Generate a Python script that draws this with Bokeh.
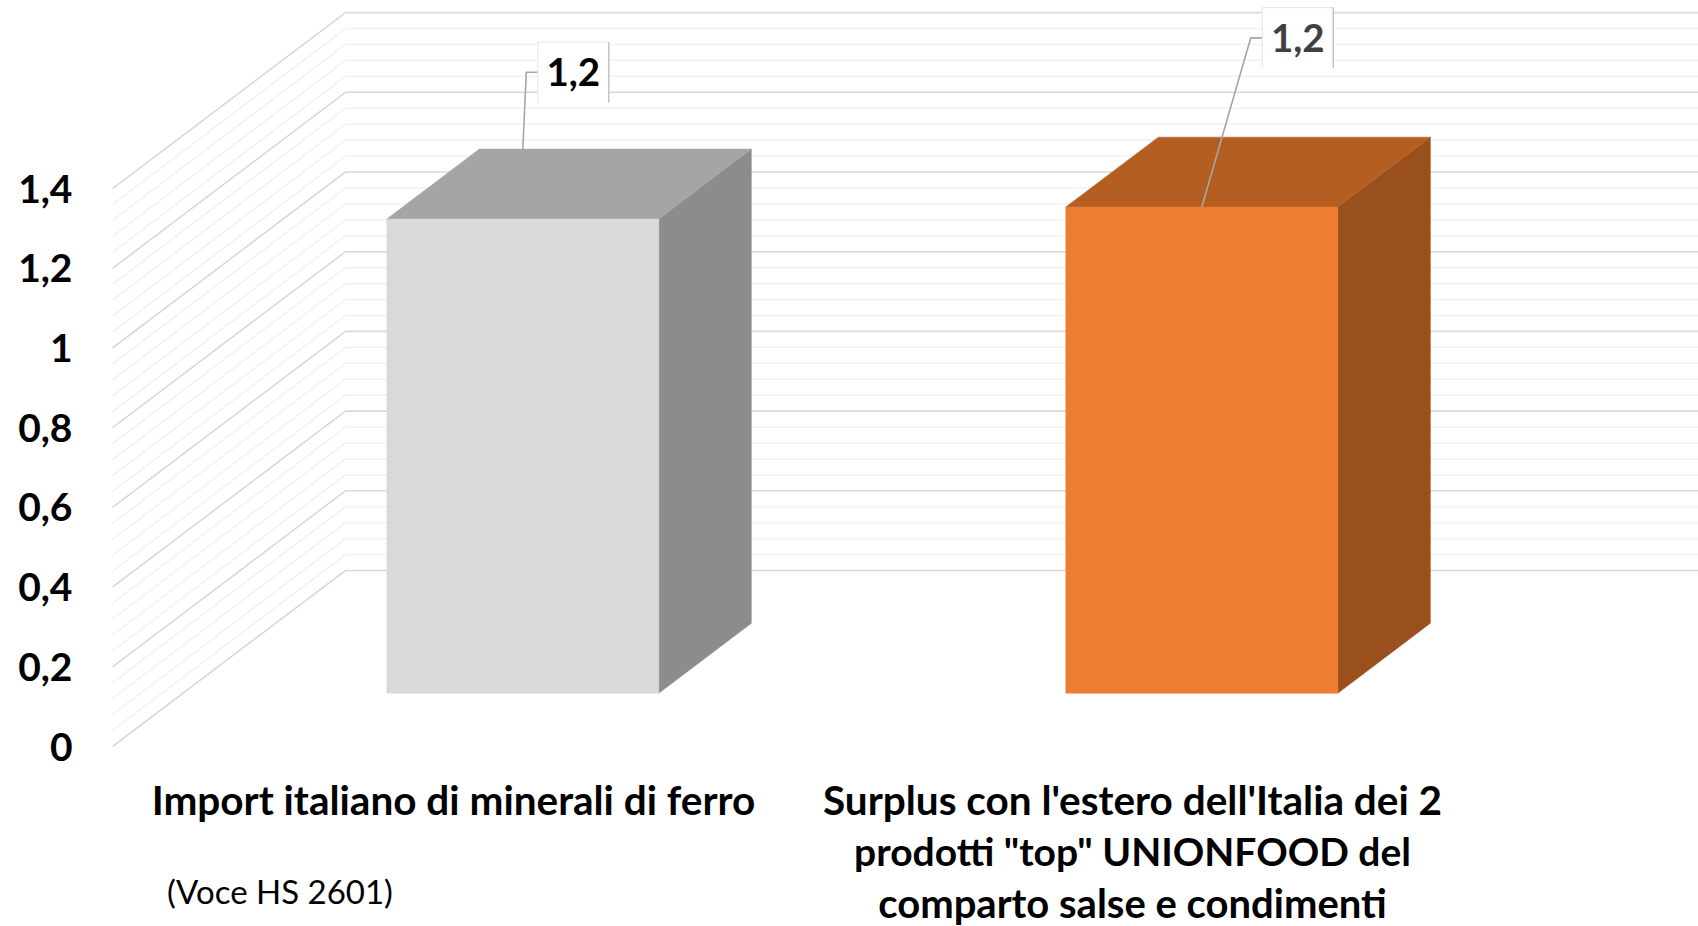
from bokeh.plotting import figure
from bokeh.models import Range1d, LinearAxis, FixedTicker
from bokeh.core.properties import value
from bokeh.embed import file_html
from bokeh.resources import INLINE

# ---- data ----
categories = [
    ["Import italiano di minerali di ferro"],
    ["Surplus con l'estero dell'Italia dei 2",
     "prodotti \"top\" UNIONFOOD del",
     "comparto salse e condimenti"],
]
category_font_sizes = [["40.5px"], ["40.5px", "39px", "40px"]]
values = [1.19, 1.22]
value_labels = ["1,2", "1,2"]
value_label_colors = ["#000000", "#404040"]
y_ticks = [0, 0.2, 0.4, 0.6, 0.8, 1, 1.2, 1.4]
y_tick_labels = ["0", "0,2", "0,4", "0,6", "0,8", "1", "1,2", "1,4"]
note = "(Voce HS 2601)"
front_colors = ["#d9d9d9", "#ed7d31"]
top_colors = ["#a5a5a5", "#b55e22"]
side_colors = ["#8c8c8c", "#99501d"]

# ---- layout: page pixels -> data units ----
W, H = 1698, 926
FRAME_L = 100
PX_X = 679.0     # pixels per category step
PX_Y = 398.5     # pixels per value unit
CAT0 = 453.0     # page x of category 0 on the front plane
ZERO = 746.0     # page y of value 0 on the front plane
x0 = (FRAME_L - CAT0) / PX_X
x1 = (W - CAT0) / PX_X
y0 = (ZERO - H) / PX_Y
y1 = ZERO / PX_Y

FLOOR_DX = 233 / PX_X      # floor depth on the x axis
FLOOR_DY = 176 / PX_Y      # floor depth on the y axis
WALL_L = (112 - CAT0) / PX_X
BAR_HALF = 136 / PX_X
BAR_SHIFT = 69.3 / PX_X    # bar centre right of its label
Z_FRONT, Z_BACK = 0.3028, 0.70


def proj(x, v, z):
    """Oblique projection of (x on the floor's front edge, value v, depth z 0..1)."""
    return x + z * FLOOR_DX, v + z * FLOOR_DY


p = figure(width=W, height=H, output_backend="svg", toolbar_location=None,
           x_range=Range1d(x0, x1), y_range=Range1d(y0, y1),
           x_axis_location=None, y_axis_location=None,
           min_border_left=FRAME_L, min_border_right=0,
           min_border_top=0, min_border_bottom=0,
           outline_line_color=None, background_fill_color="white")
p.grid.visible = False

# y axis
ax = LinearAxis(ticker=FixedTicker(ticks=y_ticks))
ax.major_label_overrides = dict(zip(y_ticks, y_tick_labels))
ax.axis_line_color = None
ax.major_tick_line_color = None
ax.minor_tick_line_color = None
ax.major_label_standoff = 22
ax.major_label_text_font = "Lato"
ax.major_label_text_font_style = "bold"
ax.major_label_text_font_size = "39px"
ax.major_label_text_color = "#000000"
p.add_layout(ax, "left")

# floor + wall grid
step = y_ticks[1] / 5
n_lines = 5 * (len(y_ticks) - 1) + 1
for i in range(n_lines - 1, -1, -1):
    v = i * step
    major = i % 5 == 0
    xs = [WALL_L, WALL_L + FLOOR_DX, x1]
    ys = [v, v + FLOOR_DY, v + FLOOR_DY]
    p.line(xs, ys, line_color="#d9d9d9" if major else "#f2f2f2", line_width=1.6)

# 3-D bars
for i, val in enumerate(values):
    cx = i + BAR_SHIFT - Z_FRONT * FLOOR_DX
    l, r = cx - BAR_HALF, cx + BAR_HALF
    fl0 = proj(l, 0, Z_FRONT); fr0 = proj(r, 0, Z_FRONT)
    fl1 = proj(l, val, Z_FRONT); fr1 = proj(r, val, Z_FRONT)
    bl1 = proj(l, val, Z_BACK); br1 = proj(r, val, Z_BACK)
    br0 = proj(r, 0, Z_BACK)
    p.patch([fr0[0], br0[0], br1[0], fr1[0]], [fr0[1], br0[1], br1[1], fr1[1]],
            fill_color=side_colors[i], line_color=side_colors[i], line_width=0.5)
    p.patch([fl1[0], fr1[0], br1[0], bl1[0]], [fl1[1], fr1[1], br1[1], bl1[1]],
            fill_color=top_colors[i], line_color=top_colors[i], line_width=0.5)
    p.patch([fl0[0], fr0[0], fr1[0], fl1[0]], [fl0[1], fr0[1], fr1[1], fl1[1]],
            fill_color=front_colors[i], line_color=front_colors[i], line_width=0.5)

# data labels with leaders (offsets in pixels from each bar's top front edge)
label_dx = [50.5, 96.0]          # box centre right of the bar's centre
label_dy = [146.7, 169.2]        # box centre above the bar's top front edge
box_w, box_h = 71 / PX_X, 60.5 / PX_Y
leader_end_dy = [70.0, 0.0]      # where the leader touches the bar
leader_elbow_dx = [3.5, 49.0]    # elbow right of the bar's centre
for i, val in enumerate(values):
    bar_x = i + BAR_SHIFT
    top_y = proj(0, val, Z_FRONT)[1]
    bx = bar_x + label_dx[i] / PX_X
    by = top_y + label_dy[i] / PX_Y
    left = bx - box_w / 2
    right = bx + box_w / 2
    p.line([left, bar_x + leader_elbow_dx[i] / PX_X, bar_x],
           [by, by, top_y + leader_end_dy[i] / PX_Y],
           line_color="#a6a6a6", line_width=1.6)
    p.rect([bx], [by], width=box_w, height=box_h, fill_color="white", line_color=None)
    p.line([left, left, right], [by - box_h / 2, by + box_h / 2, by + box_h / 2], line_color="#e6e6e6", line_width=1)
    p.line([right, right], [by - box_h / 2, by + box_h / 2], line_color="#bfbfbf", line_width=1.4)
    p.text([bx], [by], text=[value_labels[i]], text_font=value("Lato"), text_font_style="bold",
           text_font_size="38.5px", text_color=value_label_colors[i],
           text_align="center", text_baseline="middle")

# category labels
LINE_STEP = 51.5 / PX_Y
FIRST = (ZERO - 799) / PX_Y
for i, lines in enumerate(categories):
    for j, line in enumerate(lines):
        p.text([i], [FIRST - j * LINE_STEP], text=[line], text_font=value("Lato"),
               text_font_style="bold", text_font_size=category_font_sizes[i][j], text_color="#000000",
               text_align="center", text_baseline="middle")

p.text([(279.5 - CAT0) / PX_X], [(ZERO - 890) / PX_Y], text=[note], text_font=value("Lato"),
       text_font_size="33px", text_color="#000000", text_align="center", text_baseline="middle")

open("out.html", "w").write(file_html(p, INLINE))
